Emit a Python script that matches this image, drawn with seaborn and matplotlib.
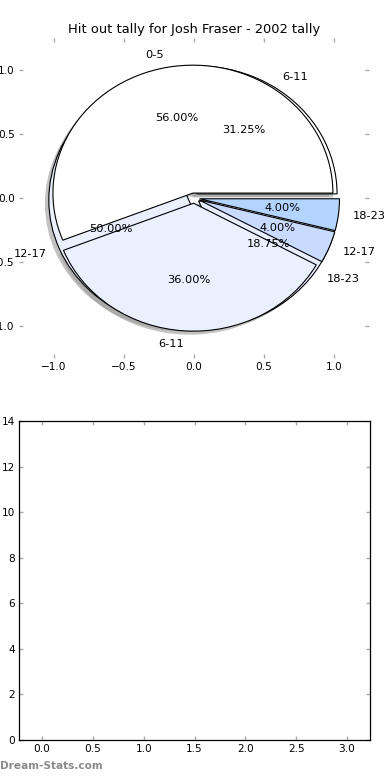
import matplotlib
matplotlib.use("Agg")
import matplotlib.pyplot as plt
import matplotlib.patches as mpatches
import seaborn as sns

# Pie data
groups_a = ["0-5", "6-11", "12-17", "18-23"]
share_a = [56.0, 36.0, 4.0, 4.0]
colors_a = ["#ffffff", "#eaf0fe", "#c8dbff", "#b3d4ff"]

groups_b = ["6-11", "12-17", "18-23"]
share_b = [31.25, 50.0, 18.75]
colors_b = ["#ffffff", "#eaf0fe", "#e6eefd"]

bottom_yticks = [0, 2, 4, 6, 8, 10, 12, 14]
bottom_xticks = [0.0, 0.5, 1.0, 1.5, 2.0, 2.5, 3.0]

sns.set_style("ticks", {
    "xtick.direction": "in",
    "ytick.direction": "in",
    "axes.edgecolor": "black",
    "text.color": "black",
    "xtick.color": "black",
    "ytick.color": "black",
})
plt.rcParams['font.family'] = ['DejaVu Sans']

fig = plt.figure(figsize=(3.9, 7.8), dpi=100)
ax_pie = fig.add_axes([0.0487, 0.541, 0.8973, 0.410])
ax_bar = fig.add_axes([0.0495, 0.0513, 0.8992, 0.4087])

txt = dict(fontsize=8.2, color="black")
wedge_kw = dict(edgecolor="black", linewidth=0.8)

# second pie sits underneath, first pie drawn on top of it
wb, tb, pb = ax_pie.pie(share_b, labels=groups_b, colors=colors_b, autopct="%1.2f%%",
                        explode=[0.04] * len(share_b), shadow=True,
                        wedgeprops=dict(wedge_kw, zorder=1), textprops=txt)
wa, ta, pa = ax_pie.pie(share_a, labels=groups_a, colors=colors_a, autopct="%1.2f%%",
                        explode=[0.04] * len(share_a), shadow=True,
                        wedgeprops=dict(wedge_kw, zorder=3), textprops=txt)
for p in ax_pie.patches:
    if isinstance(p, mpatches.Shadow):
        p.set_zorder(0.5)
        p.set_facecolor("#9a9a9a")
        p.set_edgecolor("none")
        p.set_alpha(0.6)
for t in list(tb) + list(pb) + list(ta) + list(pa):
    t.set_zorder(5)

ax_pie.set_aspect("auto")
ax_pie.set_frame_on(False)
ax_pie.set_xlim(-1.25, 1.25)
ax_pie.set_ylim(-1.25, 1.25)
ax_pie.set_xticks([-1.0, -0.5, 0.0, 0.5, 1.0])
ax_pie.set_yticks([-1.0, -0.5, 0.0, 0.5, 1.0])
ax_pie.set_title("Hit out tally for Josh Fraser - 2002 tally", fontsize=9.4, pad=4)

for ax in (ax_pie, ax_bar):
    ax.tick_params(which="both", direction="in", top=True, right=True,
                   length=3, width=1, color="#aaaaaa", labelcolor="black",
                   labelsize=7.6, pad=3)

ax_bar.set_xlim(-0.225, 3.225)
ax_bar.set_ylim(0, 14)
ax_bar.set_xticks(bottom_xticks)
ax_bar.set_yticks(bottom_yticks)
for s in ax_bar.spines.values():
    s.set_linewidth(0.9)

fig.text(0.0, 0.0115, "Dream-Stats.com", fontsize=7.6, color="#8a8a8a",
         fontweight="bold", ha="left", va="bottom")

fig.savefig("out.png", dpi=100)
